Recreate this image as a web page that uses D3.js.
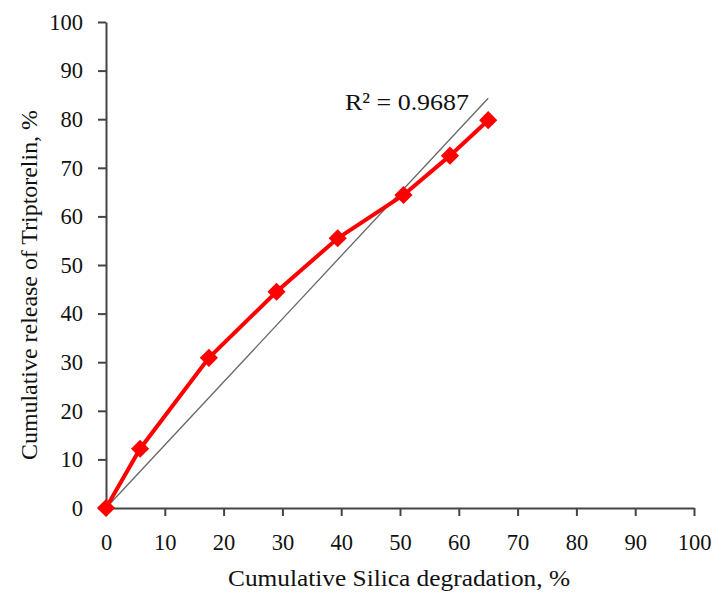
<!DOCTYPE html>
<html>
<head>
<meta charset="utf-8">
<script src="https://cdn.jsdelivr.net/npm/d3@7"></script>
<style>
  body { margin: 0; background: #fff; }
  svg text { font-family: "Times New Roman", "Liberation Serif", "DejaVu Serif", serif !important; fill: #111; }
</style>
</head>
<body>
<div id="chart"></div>
<script>
// data
var degradation = [0, 5.8, 17.5, 29, 39.4, 50.6, 58.5, 65];
var release     = [0, 12.2, 30.9, 44.5, 55.5, 64.4, 72.5, 79.8];
var xTicks = [0, 10, 20, 30, 40, 50, 60, 70, 80, 90, 100];
var yTicks = [0, 10, 20, 30, 40, 50, 60, 70, 80, 90, 100];
var trendSlope = 1.297;   // linear trend through origin
var trendLabel = "R\u00b2 = 0.9687";

var width = 727, height = 596;
var svg = d3.select('#chart').append('svg')
    .attr('width', width)
    .attr('height', height);

var x = d3.scaleLinear().domain([0, 100]).range([106, 694]);
var y = d3.scaleLinear().domain([0, 100]).range([508, 22]);
var axisColor = '#444';

// x axis
var gx = svg.append('g')
    .attr('transform', 'translate(0,' + y(0) + ')')
    .call(d3.axisBottom(x).tickValues(xTicks).tickSize(8).tickPadding(18).tickSizeOuter(0));
// y axis
var gy = svg.append('g')
    .attr('transform', 'translate(' + x(0) + ',0)')
    .call(d3.axisLeft(y).tickValues(yTicks).tickSize(8).tickPadding(15).tickSizeOuter(0));

[gx, gy].forEach(function(g) {
    g.attr('font-family', null).attr('font-size', null);
    g.select('.domain').attr('stroke', axisColor).attr('stroke-width', 2);
    g.selectAll('.tick line').attr('stroke', axisColor).attr('stroke-width', 2);
    g.selectAll('.tick text')
        .style('font-size', '22.5px')
        .attr('fill', '#111');
});

// trend line
var xMax = d3.max(degradation);
svg.append('line')
    .attr('x1', x(0)).attr('y1', y(0))
    .attr('x2', x(xMax)).attr('y2', y(trendSlope * xMax))
    .attr('stroke', '#666')
    .attr('stroke-width', 1.3);

// series line
var line = d3.line()
    .x(function(d, i) { return x(degradation[i]); })
    .y(function(d) { return y(d); });
svg.append('path')
    .datum(release)
    .attr('d', line)
    .attr('fill', 'none')
    .attr('stroke', '#ff0000')
    .attr('stroke-width', 4);

// diamond markers
svg.selectAll('.pt')
    .data(release)
    .enter().append('path')
    .attr('class', 'pt')
    .attr('d', d3.symbol().type(d3.symbolDiamond2).size(210))
    .attr('transform', function(d, i) { return 'translate(' + x(degradation[i]) + ',' + y(d) + ')'; })
    .attr('fill', '#ff0000');

// R squared label
svg.append('text')
    .attr('x', 345).attr('y', 110)
    .attr('textLength', 124)
    .attr('lengthAdjust', 'spacingAndGlyphs')
    .style('font-size', '24px')
    .text(trendLabel);

// axis titles
svg.append('text')
    .attr('x', 399).attr('y', 586)
    .attr('text-anchor', 'middle')
    .attr('textLength', 342)
    .attr('lengthAdjust', 'spacingAndGlyphs')
    .style('font-size', '24px')
    .text('Cumulative  Silica degradation, %');

svg.append('text')
    .attr('transform', 'translate(37,285) rotate(-90)')
    .attr('text-anchor', 'middle')
    .attr('textLength', 350)
    .attr('lengthAdjust', 'spacingAndGlyphs')
    .style('font-size', '24px')
    .text('Cumulative  release of Triptorelin, %');
</script>
</body>
</html>
